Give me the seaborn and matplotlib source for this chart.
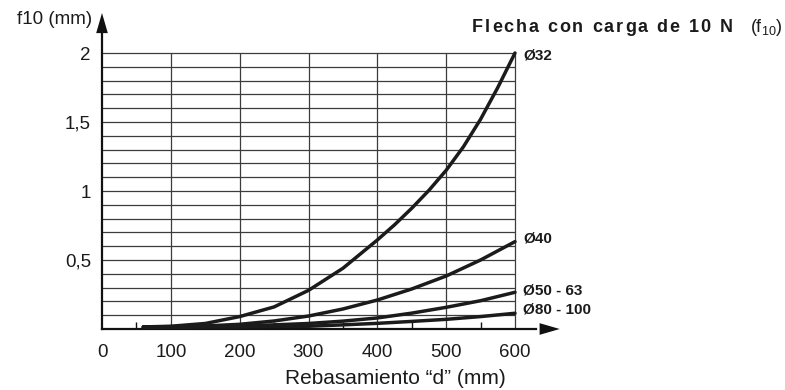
import numpy as np
import pandas as pd
import matplotlib
matplotlib.use("Agg")
import matplotlib.pyplot as plt
import seaborn as sns

# Deflection under a 10 N load versus overhang "d"
d_32 = [60, 100, 150, 200, 250, 300, 350, 400, 425, 450, 475, 500, 525, 550, 575, 600]
f_32 = [0.015, 0.02, 0.04, 0.09, 0.16, 0.28, 0.44, 0.645, 0.755, 0.875, 1.005, 1.15, 1.32, 1.52, 1.75, 2.0]
d_mm = [60, 100, 150, 200, 250, 300, 350, 400, 450, 500, 550, 600]
f_40 = [0.015, 0.017, 0.022, 0.034, 0.058, 0.094, 0.145, 0.21, 0.29, 0.384, 0.5, 0.633]
f_50_63 = [0.015, 0.015, 0.018, 0.022, 0.03, 0.04, 0.057, 0.08, 0.115, 0.157, 0.205, 0.266]
f_80_100 = [0.012, 0.012, 0.013, 0.015, 0.017, 0.02, 0.03, 0.041, 0.055, 0.07, 0.09, 0.114]

series_names = ["Ø32", "Ø40", "Ø50 - 63", "Ø80 - 100"]
series_x = [d_32, d_mm, d_mm, d_mm]
series_values = [f_32, f_40, f_50_63, f_80_100]
label_offsets = [-0.015, 0.02, 0.015, 0.025]

x_ticks = [0, 100, 200, 300, 400, 500, 600]
y_ticks = [0.5, 1.0, 1.5, 2.0]
y_tick_labels = ["0,5", "1", "1,5", "2"]

df = pd.concat(
    [pd.DataFrame({"d": xs, "f": vals, "serie": name})
     for name, xs, vals in zip(series_names, series_x, series_values)],
    ignore_index=True,
)

sns.set_theme(style="white")
plt.rcParams["font.family"] = ["Liberation Sans", "DejaVu Sans"]
plt.rcParams["mathtext.fontset"] = "custom"
plt.rcParams["mathtext.rm"] = "Liberation Sans"

W, H = 785, 390
INK = "#1b1b1b"
fig = plt.figure(figsize=(W / 100, H / 100), dpi=100)

px_per_x = 413 / 600.0
px_per_y = 138.0
x_max, y_max = 665, 2.29
ax = fig.add_axes([102 / W, (H - 329) / H, x_max * px_per_x / W, y_max * px_per_y / H])
ax.set_xlim(0, x_max)
ax.set_ylim(0, y_max)

grid_col = "#3c3c3c"
ax.hlines(np.arange(0.1, 2.001, 0.1), 0, 600, color=grid_col, lw=0.9, zorder=1)
ax.vlines(x_ticks[1:], 0, 2.0, color=grid_col, lw=0.9, zorder=1)

sns.lineplot(data=df, x="d", y="f", hue="serie", palette=[INK] * 4,
             linewidth=2.5, legend=False, ax=ax, zorder=3, estimator=None,
             sort=False)

# End-of-curve labels
for name, vals, off in zip(series_names, series_values, label_offsets):
    ax.text(612, vals[-1] + off, name, ha="left", va="center",
            fontsize=11, fontweight="bold", color=INK, clip_on=False)

# Axes: only left and bottom lines, with arrow heads
for s in ["top", "right"]:
    ax.spines[s].set_visible(False)
for s in ["left", "bottom"]:
    ax.spines[s].set_color("#111111")
    ax.spines[s].set_linewidth(1.6)
ax.spines["left"].set_bounds(0, 2.15)
ax.spines["bottom"].set_bounds(0, 630)

arrow = dict(arrowstyle="-|>,head_length=1.45,head_width=0.42", color="#111111",
             lw=0, shrinkA=0, shrinkB=0, mutation_scale=10)
ax.annotate("", xy=(0, y_max), xytext=(0, 2.0), arrowprops=arrow, annotation_clip=False)
ax.annotate("", xy=(x_max, 0), xytext=(600, 0), arrowprops=arrow, annotation_clip=False)

ax.set_xticks(x_ticks)
ax.set_xticklabels([str(v) for v in x_ticks])
ax.set_xticks(np.arange(50, 600, 100), minor=True)
ax.set_yticks(y_ticks)
ax.set_yticklabels(y_tick_labels)
ax.tick_params(axis="both", which="major", length=0, labelsize=13.5, colors=INK)
ax.tick_params(axis="x", which="major", pad=11)
ax.tick_params(axis="y", which="major", pad=8)
ax.tick_params(axis="x", which="minor", direction="in", length=5, width=1,
               color="#111111", bottom=True)
ax.set_xlabel("")
ax.set_ylabel("")

fig.text(55 / W, 1 - 20 / H, "f10 (mm)", ha="center", va="center",
         fontsize=13.5, color=INK)
fig.text(395 / W, 1 - 378 / H, "Rebasamiento “d” (mm)", ha="center", va="center",
         fontsize=15, color=INK)

# Letter-spaced bold heading
renderer = fig.canvas.get_renderer()
title = "Flecha con carga de 10 N"
x_px, base_px = 472.0, H - 32.0
track = 1.9
space_px = 7.0
for ch in title:
    if ch == " ":
        x_px += space_px
        continue
    t = fig.text(x_px / W, base_px / H, ch, ha="left", va="baseline",
                 fontsize=13, fontweight="bold", color=INK)
    x_px += t.get_window_extent(renderer).width + track
fig.text(783 / W, base_px / H, r"(f$_\mathregular{10}$)", ha="right", va="baseline",
         fontsize=13, color=INK)

fig.savefig("out.png", dpi=100)
